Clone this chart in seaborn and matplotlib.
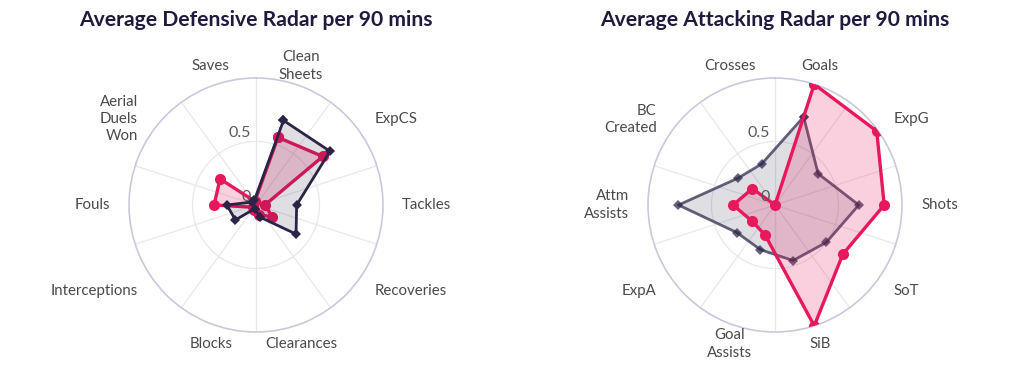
import numpy as np
import pandas as pd
import matplotlib
matplotlib.use("Agg")
import matplotlib.pyplot as plt
import seaborn as sns

# ---- data ----
def_categories = ["Clean\nSheets", "ExpCS", "Tackles", "Recoveries", "Clearances",
                  "Blocks", "Interceptions", "Fouls", "Aerial\nDuels\nWon", "Saves"]
def_player = [0.56, 0.65, 0.07, 0.16, 0.08, 0.04, 0.03, 0.33, 0.35, 0.03]
def_average = [0.70, 0.72, 0.32, 0.39, 0.10, 0.03, 0.20, 0.23, 0.04, 0.04]

att_categories = ["Goals", "ExpG", "Shots", "SoT", "SiB", "Goal\nAssists",
                  "ExpA", "Attm\nAssists", "BC\nCreated", "Crosses"]
att_player = [1.00, 0.99, 0.86, 0.66, 1.00, 0.25, 0.22, 0.33, 0.22, 0.00]
att_average = [0.73, 0.42, 0.66, 0.50, 0.46, 0.37, 0.37, 0.76, 0.36, 0.34]

radial_ticks = [0, 0.5]
radial_labels = ["0", "0.5"]

titles = ["Average Defensive Radar per 90 mins", "Average Attacking Radar per 90 mins"]

PINK = "#e8185c"
DARK = "#2a2546"
TITLE_C = "#1f1b3c"
LABEL_C = "#4a4a4a"

sns.set_theme(style="white")
plt.rcParams["font.family"] = ["Lato", "DejaVu Sans"]

fig = plt.figure(figsize=(10.22, 3.71), dpi=100)
W, H = 1022, 371
R = 127


def make_ax(cx, cy):
    return fig.add_axes([(cx - R) / W, (H - cy - R) / H, 2 * R / W, 2 * R / H],
                        projection="polar")


def radar(ax, cats, player, average, pink_on_top):
    n = len(cats)
    step = 2 * np.pi / n
    theta = np.arange(n) * step + step / 2
    ax.set_theta_zero_location("N")
    ax.set_theta_direction(-1)
    ax.set_ylim(0, 1)
    ax.set_facecolor("white")
    # spokes between categories
    ax.set_xticks(np.arange(n) * step)
    ax.set_xticklabels([])
    ax.set_yticks([0.5])
    ax.set_yticklabels([])
    ax.grid(True, color="#e8e8ec", linewidth=0.9)
    ax.spines["polar"].set_color("#c9c9dd")
    ax.spines["polar"].set_linewidth(1.2)

    th = np.append(theta, theta[0])
    p = np.append(player, player[0])
    a = np.append(average, average[0])

    df_p = pd.DataFrame({"theta": th, "r": p})
    df_a = pd.DataFrame({"theta": th, "r": a})

    def draw_avg(z, alpha_line):
        ax.fill(th, a, color=DARK, alpha=0.15, zorder=z, linewidth=0)
        sns.lineplot(data=df_a, x="theta", y="r", ax=ax, sort=False, color=DARK,
                     linewidth=2.0, marker="D", markersize=5.5, markeredgewidth=0,
                     alpha=alpha_line, zorder=z + 0.5, estimator=None)

    def draw_player(z):
        ax.fill(th, p, color=PINK, alpha=0.2, zorder=z, linewidth=0)
        sns.lineplot(data=df_p, x="theta", y="r", ax=ax, sort=False, color=PINK,
                     linewidth=2.4, marker="o", markersize=8, markeredgewidth=0,
                     zorder=z + 0.5, estimator=None)

    if pink_on_top:
        draw_avg(3, 0.72)
        draw_player(5)
    else:
        draw_player(3)
        draw_avg(5, 1.0)

    ax.set_xlabel("")
    ax.set_ylabel("")

    for t, lab in zip(theta, cats):
        s = np.sin(t)
        if abs(s) < 0.5:
            ha = "center"
        elif s > 0:
            ha = "left"
        else:
            ha = "right"
        ax.text(t, 1.15, lab, ha=ha, va="center", fontsize=10.8, color=LABEL_C,
                multialignment=ha, linespacing=1.3)

    for rv, rl in zip(radial_ticks, radial_labels):
        ax.annotate(rl, xy=(0, rv), xytext=(-4, 1), textcoords="offset points",
                    ha="right", va="bottom", fontsize=11.5, color="#5a5a5a", zorder=10)

    ax.set_ylim(0, 1)


ax1 = make_ax(256, 205)
radar(ax1, def_categories, def_player, def_average, pink_on_top=False)
ax2 = make_ax(775, 205)
radar(ax2, att_categories, att_player, att_average, pink_on_top=True)

fig.text(256 / W, 1 - 20 / H, titles[0], ha="center", va="center", fontsize=15.2,
         fontweight="bold", color=TITLE_C)
fig.text(775 / W, 1 - 20 / H, titles[1], ha="center", va="center", fontsize=15.2,
         fontweight="bold", color=TITLE_C)

fig.savefig("out.png", dpi=100, facecolor="white")
